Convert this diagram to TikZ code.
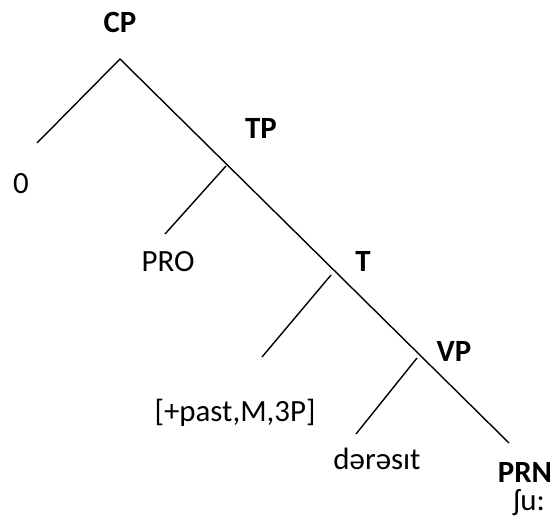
\documentclass[tikz,border=0pt]{standalone}
\usepackage{fontspec}
\setmainfont{Carlito}
\begin{document}
\begin{tikzpicture}[x=1bp,y=-1bp,
  lbl/.style={inner sep=0pt,font=\fontsize{31}{37}\selectfont},
  cat/.style={lbl,font=\fontsize{31}{37}\selectfont\bfseries},
  branch/.style={line width=1.4bp,line cap=butt}]
\useasboundingbox (0,0) rectangle (558,527);
% labels
\node[cat] (cp) at (120,22) {CP};
\node[lbl] (zero) at (21,184) {0};
\node[cat] (tp) at (261,128) {TP};
\node[lbl] (pro) at (168,262) {PRO};
\node[cat] (t) at (363,261) {T};
\node[lbl] (feat) at (235,413) {[+past,M,3P]};
\node[cat] (vp) at (454,351) {VP};
\node[lbl] (verb) at (377,459) {dərəsɪt};
\node[cat] (prn) at (525,472) {PRN};
\node[lbl] (shu) at (529,503) {ʃu:};
% junctions and branch ends
\coordinate (apex) at (120,59);
\coordinate (leftend) at (37,143);
\coordinate (mainend) at (509,443);
\coordinate (tpj) at (226,166);
\coordinate (tpl) at (165,234);
\coordinate (tj) at (331,275);
\coordinate (tl) at (262,357);
\coordinate (vpj) at (417,358);
\coordinate (vpl) at (356,434);
\draw[branch] (leftend) -- (apex) -- (mainend);
\draw[branch] (tpj) -- (tpl);
\draw[branch] (tj) -- (tl);
\draw[branch] (vpj) -- (vpl);
\end{tikzpicture}
\end{document}
